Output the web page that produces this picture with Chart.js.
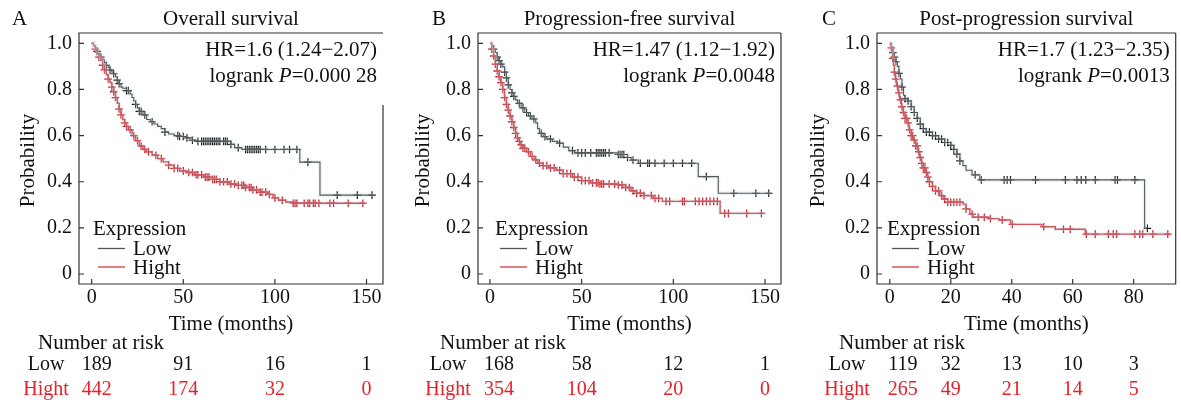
<!DOCTYPE html>
<html>
<head>
<meta charset="utf-8">
<script src="https://cdn.jsdelivr.net/npm/chart.js@4.4.1/dist/chart.umd.min.js"></script>
<style>
  body { margin: 0; background: #fff; width: 1181px; height: 403px; overflow: hidden; position: relative; }
  .panel { position: absolute; top: 0; height: 403px; }
</style>
</head>
<body>
<div class="panel" style="left:0;width:395px"><canvas id="chartA"></canvas></div>
<div class="panel" style="left:395px;width:395px"><canvas id="chartB"></canvas></div>
<div class="panel" style="left:790px;width:391px"><canvas id="chartC"></canvas></div>
<script>
// ---- A: overall survival  ([months, survival] at each drop, last point = end of follow-up)
const osTicks = [0, 50, 100, 150];
const osLow = [[0,1],[1,0.99],[2,0.98],[3,0.965],[4,0.95],[5,0.94],[6,0.928],[7,0.915],[8,0.905],[9,0.895],[10,0.885],[11,0.875],[12,0.868],[13,0.855],[14,0.84],[15,0.825],[16,0.81],[17,0.805],[19,0.795],[21,0.78],[22,0.765],[23,0.75],[24,0.735],[25,0.72],[26,0.705],[28,0.69],[30,0.67],[32,0.66],[34,0.65],[36,0.64],[38,0.63],[40,0.615],[42,0.607],[45,0.6],[48,0.596],[52,0.59],[55,0.58],[58,0.575],[76,0.562],[78,0.548],[82,0.54],[113.6,0.485],[124.6,0.342],[153.6,0.342]];
const osHigh = [[0,1],[1,0.99],[2,0.975],[3,0.955],[4,0.94],[5,0.925],[6,0.905],[7,0.885],[8,0.865],[9,0.845],[10,0.83],[11,0.81],[12,0.79],[13,0.765],[14,0.74],[15,0.715],[16,0.69],[17,0.67],[18,0.655],[19,0.64],[20,0.625],[22,0.6],[24,0.578],[26,0.555],[28,0.54],[30,0.53],[33,0.515],[36,0.5],[39,0.486],[42,0.472],[45,0.458],[48,0.447],[52,0.44],[56,0.43],[61,0.42],[66,0.41],[70,0.4],[75,0.39],[79,0.384],[84,0.375],[88,0.365],[92,0.355],[96,0.345],[99,0.33],[102,0.32],[106,0.312],[110,0.307],[149,0.307]];
const osLowCensor = [3,5,8,10,12,14,15,19,20,24,26,27,29,33,40,47,48,50,52,55,58,60,61,62,63,64,65,66,67,68,69,70,72,73,74,76,80,84,85,86,87,88,89,90,91,92,95,100,105,108,112,118,134,145,153];
const osHighCensor = [2,4,6,7,9,11,12,13,15,16,18,19,21,23,25,27,29,31,35,38,42,45,47,50,53,55,57,58,60,62,63,64,66,67,68,70,72,74,76,78,80,82,83,84,86,87,88,90,92,93,95,97,100,104,110,111,112,116,118,119,121,122,124,130,132,140,148];
const osRiskLow = [189, 91, 16, 1];
const osRiskHigh = [442, 174, 32, 0];

// ---- B: progression-free survival
const pfsTicks = [0, 50, 100, 150];
const pfsLow = [[0,1],[1,0.99],[2,0.975],[3,0.96],[4,0.94],[5,0.925],[6,0.91],[7,0.898],[8,0.875],[9,0.85],[10,0.82],[11,0.8],[12,0.785],[13,0.77],[14,0.755],[15,0.74],[17,0.72],[19,0.7],[21,0.685],[23,0.672],[25,0.655],[26,0.63],[27,0.61],[29,0.595],[31,0.585],[34,0.575],[37,0.567],[40,0.55],[43,0.535],[46,0.525],[70,0.518],[75,0.505],[77,0.494],[81,0.48],[113.6,0.422],[124.5,0.35],[153.6,0.35]];
const pfsHigh = [[0,1],[1,0.975],[2,0.945],[3,0.91],[4,0.88],[5,0.855],[6,0.83],[7,0.8],[8,0.765],[9,0.735],[10,0.71],[11,0.685],[12,0.66],[13,0.635],[14,0.61],[15,0.59],[16,0.575],[17,0.56],[18,0.545],[20,0.53],[22,0.51],[24,0.495],[26,0.48],[29,0.47],[32,0.46],[36,0.45],[40,0.435],[45,0.42],[50,0.405],[55,0.395],[60,0.39],[70,0.386],[74,0.375],[77,0.36],[80,0.35],[84,0.34],[89,0.328],[94,0.315],[125.5,0.263],[150,0.263]];
const pfsLowCensor = [2,4,5,6,8,9,10,12,13,16,18,20,22,24,28,30,33,38,45,48,50,52,55,58,59,60,61,62,63,65,70,71,72,73,75,78,82,86,87,90,95,100,105,110,118,133,145,152];
const pfsHighCensor = [1,2,3,4,5,6,7,8,9,10,11,12,13,14,15,16,17,18,19,21,23,25,27,29,31,33,35,38,40,42,44,46,48,50,52,54,56,58,59,60,61,62,65,68,70,72,74,76,78,80,82,84,88,90,92,96,98,105,106,112,114,116,118,120,122,124,128,130,140,148];
const pfsRiskLow = [168, 58, 12, 1];
const pfsRiskHigh = [354, 104, 20, 0];

// ---- C: post-progression survival
const ppsTicks = [0, 20, 40, 60, 80];
const ppsLow = [[0,1],[0.5,0.985],[1,0.96],[1.5,0.94],[2,0.92],[2.5,0.9],[3,0.87],[3.5,0.845],[4,0.81],[4.5,0.775],[5,0.76],[6,0.75],[7,0.725],[8,0.7],[9,0.675],[10,0.65],[11,0.63],[12,0.615],[14,0.6],[16,0.585],[18,0.57],[20,0.558],[21,0.54],[22,0.52],[23,0.49],[24,0.47],[25,0.45],[27,0.43],[29.5,0.408],[83.6,0.198],[84.5,0.198]];
const ppsHigh = [[0,1],[0.3,0.98],[0.6,0.96],[0.9,0.935],[1.2,0.905],[1.5,0.875],[1.8,0.845],[2.2,0.815],[2.7,0.785],[3.2,0.755],[3.8,0.725],[4.4,0.7],[5,0.675],[5.6,0.655],[6.3,0.625],[7,0.6],[7.7,0.58],[8.5,0.555],[9.2,0.53],[9.8,0.505],[10.4,0.48],[11,0.46],[11.7,0.44],[12.3,0.42],[13,0.4],[14,0.38],[15,0.36],[16.4,0.34],[17.5,0.325],[19,0.311],[24,0.303],[25,0.282],[26.3,0.26],[27.3,0.246],[33,0.24],[35.8,0.234],[39.6,0.215],[49.9,0.205],[54.3,0.194],[64.1,0.173],[91.2,0.173]];
const ppsLowCensor = [1,1.5,2,3,4,5,6,7,8,9,10,11,12,13,14,15,16,17,18,19,20,21,22,23,28,30,37.5,38.5,39.6,47.8,57.6,61.4,62.8,64.3,67.4,73.9,74.7,80.4,84.5];
const ppsHighCensor = [0.5,1,1.5,2,2.5,3,3.5,4,4.5,5,5.5,6,6.5,7,7.5,8,8.5,9,9.5,10,10.5,11,11.5,12,12.5,13,14,15,16,17,18,19,20,21,22,23,25,27,29,31,33,36.9,40.2,50.5,57,59.2,64.5,67.4,71.7,73.3,74.4,80.4,82,83,86.3,91.2];
const ppsRiskLow = [119, 32, 13, 10, 3];
const ppsRiskHigh = [265, 49, 21, 14, 5];

const probTicks = [0, 0.2, 0.4, 0.6, 0.8, 1.0];
const groupNames = ['Low', 'Hight'];

const SERIF = '"Liberation Serif", "Times New Roman", serif';
const RED = '#cc2129';
const RISK_RED = '#e8202a';
const DARK = '#222222';

function survAt(curve, t) {
  let s = 1;
  for (const [tt, ss] of curve) {
    if (tt <= t) s = ss; else break;
  }
  return s;
}

const panels = [
  { id: 'chartA', letter: 'A', title: 'Overall survival', hr: 'HR=1.6 (1.24\u22122.07)', p: '0.000 28',
    ticks: osTicks, low: osLow, high: osHigh, lowC: osLowCensor, highC: osHighCensor,
    riskLow: osRiskLow, riskHigh: osRiskHigh,
    xmin: -6.9, xmax: 159, w: 395, left: 79, right: 383, rightTop: 105,
    letterX: 12, legendX: 93, riskLabelX: 46, riskShift: 5 },
  { id: 'chartB', letter: 'B', title: 'Progression-free survival', hr: 'HR=1.47 (1.12\u22121.92)', p: '0.0048',
    ticks: pfsTicks, low: pfsLow, high: pfsHigh, lowC: pfsLowCensor, highC: pfsHighCensor,
    riskLow: pfsRiskLow, riskHigh: pfsRiskHigh,
    xmin: -6.5, xmax: 158.7, w: 395, left: 83, right: 386, rightTop: 33,
    letterX: 37, legendX: 100, riskLabelX: 53, riskShift: 9 },
  { id: 'chartC', letter: 'C', title: 'Post-progression survival', hr: 'HR=1.7 (1.23\u22122.35)', p: '0.0013',
    ticks: ppsTicks, low: ppsLow, high: ppsHigh, lowC: ppsLowCensor, highC: ppsHighCensor,
    riskLow: ppsRiskLow, riskHigh: ppsRiskHigh,
    xmin: -4.2, xmax: 93.8, w: 391, left: 87, right: 388, rightTop: 33,
    letterX: 32, legendX: 97, riskLabelX: 57, riskShift: 13 }
];

const PLOT_TOP = 33, PLOT_BOTTOM = 284, H = 403, XAXIS_H = 30;

const decor = {
  id: 'decor',
  afterDraw(chart, args, opts) {
    const p = opts.panel;
    const { ctx, chartArea: a } = chart;
    const sx = chart.scales.x, sy = chart.scales.y;
    const font = (s, style) => (style ? style + ' ' : '') + s + 'px ' + SERIF;
    ctx.save();

    // frame + inward ticks
    ctx.strokeStyle = '#333';
    ctx.lineWidth = 1.2;
    ctx.beginPath();
    ctx.moveTo(a.right, p.rightTop);
    ctx.lineTo(a.right, a.bottom);
    ctx.lineTo(a.left, a.bottom);
    ctx.lineTo(a.left, a.top);
    ctx.lineTo(a.right, a.top);
    ctx.stroke();
    ctx.beginPath();
    sx.ticks.forEach(t => {
      const x = sx.getPixelForValue(t.value);
      ctx.moveTo(x, a.bottom); ctx.lineTo(x, a.bottom - 5);
    });
    sy.ticks.forEach(t => {
      const y = sy.getPixelForValue(t.value);
      ctx.moveTo(a.left, y); ctx.lineTo(a.left + 5, y);
    });
    ctx.stroke();

    ctx.fillStyle = '#111';
    ctx.textBaseline = 'alphabetic';

    // heading
    ctx.font = font(21);
    ctx.textAlign = 'left';
    ctx.fillText(p.letter, p.letterX, 25);
    ctx.textAlign = 'center';
    ctx.fillText(p.title, (a.left + a.right) / 2, 25);

    // HR and log-rank P
    const R = a.right - 6;
    ctx.textAlign = 'right';
    ctx.fillText(p.hr, R, 56);
    const tail = '=' + p.p;
    const wTail = ctx.measureText(tail).width;
    ctx.fillText(tail, R, 82);
    ctx.font = font(21, 'italic');
    const wP = ctx.measureText('P').width;
    ctx.fillText('P', R - wTail, 82);
    ctx.font = font(21);
    ctx.fillText('logrank ', R - wTail - wP, 82);

    // legend
    ctx.textAlign = 'left';
    ctx.fillText('Expression', p.legendX, 235);
    ctx.lineWidth = 1.3;
    [['#555', 248.5, 255], ['#d93a42', 267, 274]].forEach(([c, ly, ty], i) => {
      ctx.strokeStyle = c;
      ctx.beginPath();
      ctx.moveTo(p.legendX + 5, ly); ctx.lineTo(p.legendX + 32, ly);
      ctx.stroke();
      ctx.fillStyle = '#111';
      ctx.fillText(groupNames[i], p.legendX + 40, ty);
    });

    // axis titles
    ctx.textAlign = 'center';
    ctx.fillText('Time (months)', (a.left + a.right) / 2, 330);
    ctx.save();
    ctx.translate(34, (a.top + a.bottom) / 2 + 2);
    ctx.rotate(-Math.PI / 2);
    ctx.fillText('Probability', 0, 0);
    ctx.restore();

    // number at risk table
    ctx.textAlign = 'left';
    ctx.fillText('Number at risk', p.riskLabelX - 8, 349);
    ctx.font = font(20);
    ctx.textAlign = 'center';
    [[p.riskLow, '#111', 370], [p.riskHigh, RISK_RED, 395]].forEach(([row, c, y], i) => {
      ctx.fillStyle = c;
      ctx.fillText(groupNames[i], p.riskLabelX, y);
      row.forEach((n, k) => {
        const x = sx.getPixelForValue(p.ticks[k]) + (k === 0 ? p.riskShift : 0);
        ctx.fillText(String(n), x, y);
      });
    });
    ctx.restore();
  }
};

panels.forEach(p => {
  const curve = pts => pts.map(([x, y]) => ({ x, y }));
  const marks = (times, c) => times.map(t => ({ x: t, y: survAt(c, t) }));
  const halo = (data) => ({ data, showLine: true, stepped: true, pointRadius: 0,
    borderColor: 'rgba(200,216,222,0.3)', borderWidth: 4 });
  new Chart(document.getElementById(p.id), {
    type: 'scatter',
    data: {
      datasets: [
        halo(curve(p.high)),
        halo(curve(p.low)),
        { label: 'Hight', data: curve(p.high), showLine: true, stepped: true, pointRadius: 0,
          borderColor: RED, borderWidth: 1.4 },
        { label: 'Hight censored', data: marks(p.highC, p.high), pointStyle: 'cross', pointRadius: 3.8,
          borderColor: RED, borderWidth: 1.3 },
        { label: 'Low', data: curve(p.low), showLine: true, stepped: true, pointRadius: 0,
          borderColor: DARK, borderWidth: 1.1 },
        { label: 'Low censored', data: marks(p.lowC, p.low), pointStyle: 'cross', pointRadius: 3.8,
          borderColor: '#1a1a1a', borderWidth: 1.2 }
      ]
    },
    options: {
      responsive: true,
      maintainAspectRatio: false,
      animation: false,
      events: [],
      layout: { padding: { top: PLOT_TOP, left: 0, right: p.w - p.right, bottom: H - PLOT_BOTTOM - XAXIS_H } },
      plugins: { legend: { display: false }, tooltip: { enabled: false }, decor: { panel: p } },
      scales: {
        x: {
          type: 'linear', min: p.xmin, max: p.xmax,
          afterBuildTicks: s => { s.ticks = p.ticks.map(v => ({ value: v })); },
          afterFit: s => { s.height = XAXIS_H; },
          grid: { display: false, drawTicks: false },
          border: { display: false },
          ticks: { padding: 2, maxRotation: 0, autoSkip: false, color: '#111',
            font: { family: SERIF, size: 20 } }
        },
        y: {
          min: -0.0433, max: 1.0447,
          afterBuildTicks: s => { s.ticks = probTicks.map(v => ({ value: v })); },
          afterFit: s => { s.width = p.left; },
          grid: { display: false, drawTicks: false },
          border: { display: false },
          ticks: { padding: 7, color: '#111', font: { family: SERIF, size: 20 },
            callback: v => v === 0 ? '0' : v.toFixed(1) }
        }
      }
    },
    plugins: [decor]
  });
});
</script>
</body>
</html>
